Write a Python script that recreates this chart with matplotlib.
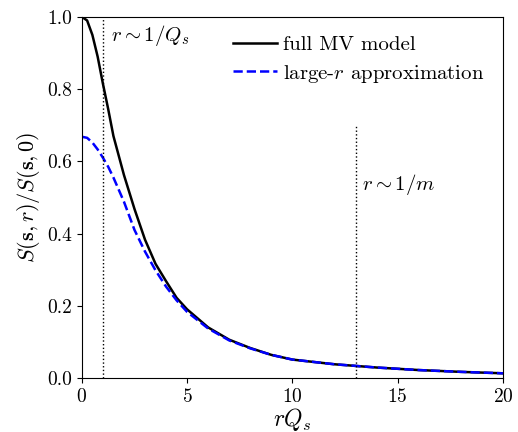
import numpy as np
import matplotlib
matplotlib.use("Agg")
from matplotlib import pyplot as plt

plt.rcParams['font.family'] = ['cmr10', 'DejaVu Serif']
plt.rcParams['mathtext.fontset'] = 'cm'
plt.rcParams['axes.formatter.use_mathtext'] = True

# nilai
r_qs = [0, 0.25, 0.5, 0.75, 1, 1.25, 1.5, 2, 2.5, 3, 3.5, 4, 4.5, 5, 6, 7, 8,
        9, 10, 12, 14, 16, 18, 20]
full_mv = [1.0, 0.99, 0.95, 0.89, 0.815, 0.745, 0.67, 0.562, 0.468, 0.383,
           0.316, 0.268, 0.222, 0.19, 0.14, 0.106, 0.083, 0.064, 0.051, 0.038,
           0.029, 0.022, 0.017, 0.013]
large_r = [0.668, 0.665, 0.652, 0.633, 0.61, 0.585, 0.555, 0.488, 0.41, 0.35,
           0.298, 0.253, 0.215, 0.183, 0.137, 0.104, 0.082, 0.064, 0.051,
           0.038, 0.029, 0.022, 0.017, 0.013]

x_qs = 1.0   # r ~ 1/Q_s
x_m = 13.0   # r ~ 1/m

fig = plt.figure(figsize=(5.18, 4.32), dpi=100)
ax = fig.add_axes([0.158, 0.125, 0.813, 0.836])

ax.plot(r_qs, full_mv, color='black', lw=1.8, label='full MV model')
ax.plot(r_qs, large_r, color='blue', lw=1.8, ls='--',
        label='large-$r$ approximation')

ax.plot([x_qs, x_qs], [0, 1], color='black', ls=':', lw=1)
ax.plot([x_m, x_m], [0, 0.7], color='black', ls=':', lw=1)

ax.text(1.4, 0.947, r'$r\sim 1/Q_s$', fontsize=15, va='center')
ax.text(13.3, 0.535, r'$r\sim 1/m$', fontsize=15, va='center')

ax.set_xlim(0, 20)
ax.set_ylim(0, 1)
ax.set_xticks([0, 5, 10, 15, 20])
ax.set_yticks([0, 0.2, 0.4, 0.6, 0.8, 1.0])
ax.set_yticklabels(['0.0', '0.2', '0.4', '0.6', '0.8', '1.0'])
ax.tick_params(labelsize=14)
ax.set_xlabel(r'$rQ_s$', fontsize=17, labelpad=0)
ax.set_ylabel(r'$S(\mathbf{s},r)/S(\mathbf{s},0)$', fontsize=16, labelpad=4)

ax.legend(loc='upper right', frameon=False, fontsize=15, handlelength=2.1,
          handletextpad=0.3, borderaxespad=0.5, labelspacing=0.4)

fig.savefig('out.png', dpi=100)
